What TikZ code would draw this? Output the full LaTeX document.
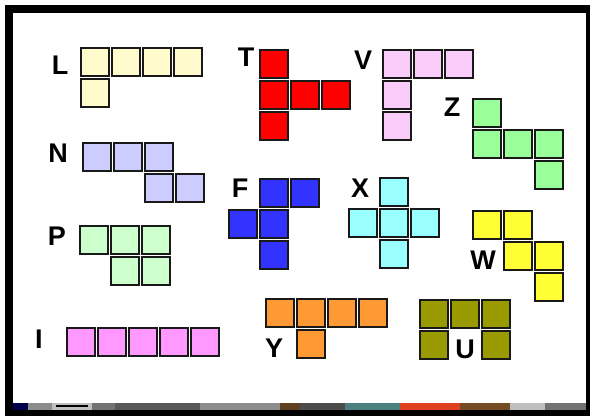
\documentclass[tikz,border=0pt]{standalone}
\usepackage{fontspec}
\setmainfont{Liberation Sans}
\definecolor{colL}{HTML}{FFFBCC}
\definecolor{colT}{HTML}{FF0000}
\definecolor{colV}{HTML}{F9CCF9}
\definecolor{colZ}{HTML}{99FF99}
\definecolor{colN}{HTML}{CCCCFF}
\definecolor{colF}{HTML}{3333FF}
\definecolor{colX}{HTML}{99FFFF}
\definecolor{colP}{HTML}{CCFFCC}
\definecolor{colW}{HTML}{FFFF33}
\definecolor{colI}{HTML}{FF99FF}
\definecolor{colY}{HTML}{FF9933}
\definecolor{colU}{HTML}{999900}
\begin{document}
\begin{tikzpicture}[x=1pt,y=-1pt,
  cell/.style={draw=black!90,line width=1.6pt},
  lab/.style={font=\fontsize{27}{27}\selectfont\bfseries,inner sep=0pt,anchor=center}]
\useasboundingbox (0,0) rectangle (593,416);
% frame
\fill[white] (0,0) rectangle (593,416);
\fill[black] (5,5) rectangle (590,416);
\fill[white] (13,13) rectangle (586,403);
% bottom strip
\fill[black!60] (13,403) rectangle (586,410);
\fill[blue!30!black] (13,403) rectangle (28,410);
\fill[black!45] (28,403) rectangle (52,410);
\fill[black!25] (52,403) rectangle (92,410);
\fill[black] (56,405) rectangle (88,407);
\fill[black!55] (92,403) rectangle (115,410);
\fill[black!65] (115,403) rectangle (200,410);
\fill[black!45] (200,403) rectangle (280,410);
\fill[brown!50!black] (280,403) rectangle (300,410);
\fill[black!70] (300,403) rectangle (345,410);
\fill[teal!40!gray] (345,403) rectangle (400,410);
\fill[red!50!brown] (400,403) rectangle (460,410);
\fill[brown!60!black] (460,403) rectangle (510,410);
\fill[black!25] (510,403) rectangle (545,410);
\fill[black!55] (545,403) rectangle (586,410);
% L
\node[lab] (lL) at (60,65) {L};
\foreach \x in {81,112,143,174} \draw[cell,fill=colL] (\x,48) rectangle ++(28,28);
\draw[cell,fill=colL] (81,79) rectangle ++(28,28);
% T
\node[lab] (lT) at (246,57) {T};
\draw[cell,fill=colT] (260,50) rectangle ++(28,28);
\foreach \x in {260,291,322} \draw[cell,fill=colT] (\x,81) rectangle ++(28,28);
\draw[cell,fill=colT] (260,112) rectangle ++(28,28);
% V
\node[lab] (lV) at (363,60) {V};
\foreach \x in {383,414,445} \draw[cell,fill=colV] (\x,50) rectangle ++(28,28);
\draw[cell,fill=colV] (383,81) rectangle ++(28,28);
\draw[cell,fill=colV] (383,112) rectangle ++(28,28);
% Z
\node[lab] (lZ) at (452,107) {Z};
\draw[cell,fill=colZ] (473,99) rectangle ++(28,28);
\foreach \x in {473,504,535} \draw[cell,fill=colZ] (\x,130) rectangle ++(28,28);
\draw[cell,fill=colZ] (535,161) rectangle ++(28,28);
% N
\node[lab] (lN) at (58,153) {N};
\foreach \x in {83,114,145} \draw[cell,fill=colN] (\x,143) rectangle ++(28,28);
\foreach \x in {145,176} \draw[cell,fill=colN] (\x,174) rectangle ++(28,28);
% F
\node[lab] (lF) at (240,188) {F};
\foreach \x in {260,291} \draw[cell,fill=colF] (\x,179) rectangle ++(28,28);
\foreach \x in {229,260} \draw[cell,fill=colF] (\x,210) rectangle ++(28,28);
\draw[cell,fill=colF] (260,241) rectangle ++(28,28);
% X
\node[lab] (lX) at (360,188) {X};
\draw[cell,fill=colX] (380,178) rectangle ++(28,28);
\foreach \x in {349,380,411} \draw[cell,fill=colX] (\x,209) rectangle ++(28,28);
\draw[cell,fill=colX] (380,240) rectangle ++(28,28);
% W
\node[lab] (lW) at (483,260) {W};
\foreach \x in {473,504} \draw[cell,fill=colW] (\x,211) rectangle ++(28,28);
\foreach \x in {504,535} \draw[cell,fill=colW] (\x,242) rectangle ++(28,28);
\draw[cell,fill=colW] (535,273) rectangle ++(28,28);
% P
\node[lab] (lP) at (57,236) {P};
\foreach \x in {80,111,142} \draw[cell,fill=colP] (\x,226) rectangle ++(28,28);
\foreach \x in {111,142} \draw[cell,fill=colP] (\x,257) rectangle ++(28,28);
% I
\node[lab] (lI) at (39,339) {I};
\foreach \x in {67,98,129,160,191} \draw[cell,fill=colI] (\x,328) rectangle ++(28,28);
% Y
\node[lab] (lY) at (274,348) {Y};
\foreach \x in {266,297,328,359} \draw[cell,fill=colY] (\x,299) rectangle ++(28,28);
\draw[cell,fill=colY] (297,330) rectangle ++(28,28);
% U
\node[lab] (lU) at (465,349) {U};
\foreach \x in {420,451,482} \draw[cell,fill=colU] (\x,300) rectangle ++(28,28);
\foreach \x in {420,482} \draw[cell,fill=colU] (\x,331) rectangle ++(28,28);
\end{tikzpicture}
\end{document}
